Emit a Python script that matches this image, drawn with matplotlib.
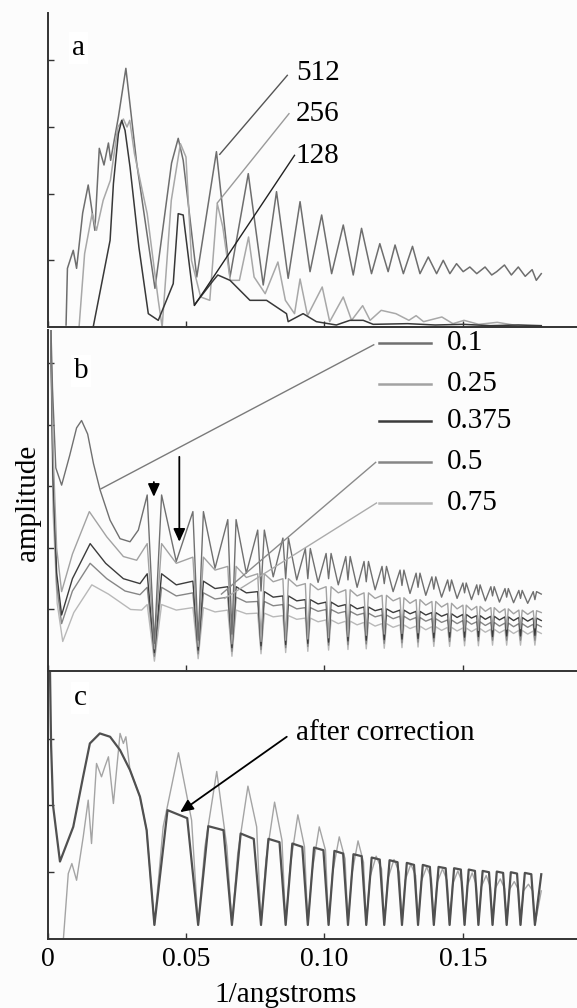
import matplotlib
matplotlib.use("Agg")
import matplotlib.pyplot as plt

plt.rcParams['font.family'] = ['Liberation Serif', 'DejaVu Serif']

# ---------------- data (x in 1/angstroms, y in arbitrary amplitude units) ----------------
# Panel a : spectra for box sizes
x512 = [0.0067, 0.0072, 0.0093, 0.0105, 0.0127, 0.0147, 0.0171, 0.0187, 0.0204, 0.0220,
        0.0228, 0.0240, 0.0256, 0.0283, 0.0322, 0.0388, 0.0448, 0.0472, 0.0490, 0.0539,
        0.0610, 0.0659, 0.0725, 0.0779, 0.0827, 0.0869, 0.0912, 0.0948, 0.0990, 0.1026,
        0.1068, 0.1104, 0.1134, 0.1170, 0.1200, 0.1230, 0.1255, 0.1285, 0.1318, 0.1345,
        0.1375, 0.1405, 0.1429, 0.1453, 0.1477, 0.1501, 0.1525, 0.1550, 0.1580, 0.1604,
        0.1622, 0.1650, 0.1675, 0.1700, 0.1725, 0.1750, 0.1765, 0.1783]
y512 = [0.03, 0.88, 1.15, 0.88, 1.71, 2.13, 1.45, 2.68, 2.43, 2.76,
        2.50, 2.78, 3.15, 3.88, 2.46, 0.58, 2.46, 2.83, 2.50, 0.75,
        2.63, 0.75, 2.30, 0.63, 2.03, 0.73, 1.88, 0.83, 1.68, 0.80,
        1.53, 0.78, 1.48, 0.80, 1.25, 0.83, 1.23, 0.80, 1.21, 0.80,
        1.05, 0.80, 1.00, 0.80, 0.95, 0.83, 0.90, 0.80, 0.90, 0.78,
        0.83, 0.93, 0.78, 0.90, 0.76, 0.86, 0.70, 0.80]

x256 = [0.0114, 0.0134, 0.0161, 0.0177, 0.0201, 0.0227, 0.0254, 0.0274, 0.0287, 0.0297,
        0.0314, 0.0360, 0.0400, 0.0414, 0.0447, 0.0480, 0.0500, 0.0520, 0.0553, 0.0586,
        0.0613, 0.0633, 0.0660, 0.0693, 0.0726, 0.0746, 0.0786, 0.0832, 0.0859, 0.0892,
        0.0912, 0.0939, 0.0992, 0.1019, 0.1068, 0.1098, 0.1138, 0.1165, 0.1205, 0.1258,
        0.1305, 0.1331, 0.1358, 0.1424, 0.1464, 0.1504, 0.1557, 0.1624, 0.1690, 0.1783]
y256 = [0.0, 1.10, 1.70, 1.45, 1.90, 2.20, 3.00, 3.12, 3.00, 3.10,
        2.60, 1.70, 0.40, 0.0, 1.90, 2.75, 2.55, 1.00, 0.45, 0.40,
        1.85, 1.50, 0.70, 0.70, 1.35, 0.75, 0.50, 0.975, 0.40, 0.20,
        0.72, 0.17, 0.60, 0.08, 0.45, 0.10, 0.32, 0.10, 0.25, 0.20,
        0.10, 0.17, 0.08, 0.15, 0.05, 0.10, 0.04, 0.07, 0.025, 0.01]

x128 = [0.0165, 0.0226, 0.0238, 0.0256, 0.0268, 0.0280, 0.0298, 0.0330, 0.0364, 0.0400,
        0.0454, 0.0472, 0.0490, 0.0530, 0.0599, 0.0615, 0.0659, 0.0731, 0.0791, 0.0863,
        0.0869, 0.0923, 0.0971, 0.1043, 0.1092, 0.1140, 0.1176, 0.1300, 0.1400, 0.1500,
        0.1600, 0.1700, 0.1783]
y128 = [0.0, 1.30, 2.15, 2.90, 3.10, 2.95, 2.40, 1.20, 0.20, 0.10,
        0.65, 1.70, 1.68, 0.33, 0.70, 0.78, 0.70, 0.40, 0.40, 0.20,
        0.08, 0.20, 0.08, 0.03, 0.10, 0.10, 0.04, 0.05, 0.03, 0.04,
        0.02, 0.03, 0.02]

size_labels = ['512', '256', '128']

# Shared CTF zero positions (panels b and c) and points between them
zeros_x = [0.0386, 0.0544, 0.0666, 0.0771, 0.0860, 0.0940, 0.1015, 0.1085, 0.1151, 0.1216,
           0.1280, 0.1338, 0.1395, 0.1452, 0.1506, 0.1556, 0.1607, 0.1658, 0.1708, 0.1760]
trough_x = [0.0465, 0.0605, 0.0718, 0.0815, 0.0900, 0.0977, 0.1050, 0.1118, 0.1183, 0.1248,
            0.1309, 0.1366, 0.1423, 0.1479, 0.1531, 0.1581, 0.1632, 0.1683, 0.1734]
peak_dx = [0.0026, 0.0019, 0.0015, 0.0012, 0.0010, 0.0009, 0.0009, 0.0008, 0.0008, 0.0008,
           0.0007, 0.0007, 0.0007, 0.0007, 0.0006, 0.0006, 0.0006, 0.0006, 0.0006, 0.0006]
x_end = 0.1783

# Panel b : series for amplitude contrast values
b_labels = ['0.1', '0.25', '0.375', '0.5', '0.75']
b01_lead_x = [0.0010, 0.0018, 0.0030, 0.0051, 0.0080, 0.0105, 0.0123, 0.0145, 0.0166, 0.0190, 0.0226, 0.0262, 0.0298, 0.0328]
b01_lead_y = [6.0, 4.6, 3.3, 3.02, 3.5, 3.95, 4.07, 3.85, 3.37, 2.94, 2.45, 2.15, 2.10, 2.29]
b01_peaks = [2.86, 2.59, 2.46, 2.29, 2.16, 1.99, 1.91, 1.86, 1.78, 1.70, 1.64, 1.59, 1.53, 1.48, 1.43, 1.40, 1.37, 1.34, 1.31, 1.29]
b01_notch = [0.45, 0.50, 0.60, 1.30, 1.50, 1.50, 1.50, 1.48, 1.45, 1.42, 1.39, 1.36, 1.33, 1.30, 1.27, 1.24, 1.22, 1.20, 1.18, 1.16]
b01_trough = [1.78, 1.67, 1.59, 1.53, 1.48, 1.44, 1.40, 1.36, 1.32, 1.29, 1.26, 1.23, 1.20, 1.18, 1.16, 1.14, 1.12, 1.11, 1.10]
b01_end = 1.25

b025_lead_x = [0.0010, 0.0020, 0.0033, 0.0051, 0.0090, 0.0151, 0.0214, 0.0274, 0.0322]
b025_lead_y = [6.0, 3.6, 2.0, 1.29, 1.90, 2.59, 2.18, 1.86, 1.80]
b025_peaks = [2.07, 1.85, 1.70, 1.58, 1.50, 1.42, 1.37, 1.32, 1.27, 1.23, 1.19, 1.16, 1.13, 1.10, 1.07, 1.05, 1.03, 1.01, 0.99, 0.98]
b025_notch = [0.36, 0.40, 0.44, 0.48, 0.50, 0.52, 0.54, 0.56, 0.58, 0.60, 0.61, 0.62, 0.63, 0.64, 0.65, 0.66, 0.67, 0.68, 0.69, 0.70]
b025_trough = [1.75, 1.64, 1.52, 1.45, 1.38, 1.32, 1.27, 1.22, 1.18, 1.14, 1.10, 1.07, 1.04, 1.01, 0.99, 0.97, 0.95, 0.93, 0.92]
b025_end = 0.95

b0375_lead_x = [0.0010, 0.0020, 0.0033, 0.0051, 0.0090, 0.0154, 0.0210, 0.0274, 0.0334]
b0375_lead_y = [6.0, 3.2, 1.6, 0.91, 1.50, 2.07, 1.75, 1.50, 1.42]
b0375_peaks = [1.58, 1.46, 1.37, 1.29, 1.22, 1.16, 1.12, 1.08, 1.04, 1.01, 0.99, 0.97, 0.95, 0.93, 0.92, 0.90, 0.89, 0.88, 0.87, 0.86]
b0375_notch = [0.30, 0.34, 0.38, 0.41, 0.43, 0.45, 0.47, 0.49, 0.50, 0.51, 0.52, 0.53, 0.54, 0.55, 0.55, 0.56, 0.56, 0.57, 0.57, 0.58]
b0375_trough = [1.40, 1.34, 1.27, 1.20, 1.14, 1.09, 1.05, 1.01, 0.98, 0.95, 0.93, 0.91, 0.89, 0.87, 0.86, 0.84, 0.83, 0.82, 0.81]
b0375_end = 0.82

b05_lead_x = [0.0010, 0.0020, 0.0033, 0.0051, 0.0090, 0.0154, 0.0214, 0.0280, 0.0334]
b05_lead_y = [6.0, 3.0, 1.4, 0.77, 1.30, 1.75, 1.50, 1.30, 1.24]
b05_peaks = [1.36, 1.27, 1.20, 1.13, 1.08, 1.03, 1.00, 0.97, 0.94, 0.91, 0.89, 0.87, 0.85, 0.83, 0.82, 0.80, 0.79, 0.78, 0.77, 0.76]
b05_notch = [0.24, 0.28, 0.32, 0.35, 0.38, 0.40, 0.42, 0.43, 0.44, 0.45, 0.46, 0.47, 0.48, 0.48, 0.49, 0.49, 0.50, 0.50, 0.50, 0.50]
b05_trough = [1.22, 1.17, 1.12, 1.06, 1.01, 0.97, 0.94, 0.91, 0.88, 0.85, 0.83, 0.81, 0.79, 0.77, 0.76, 0.74, 0.73, 0.72, 0.71]
b05_end = 0.72

b075_lead_x = [0.0010, 0.0020, 0.0035, 0.0055, 0.0095, 0.0160, 0.0220, 0.0300, 0.0340]
b075_lead_y = [6.0, 2.6, 1.1, 0.48, 0.95, 1.40, 1.25, 1.00, 0.99]
b075_peaks = [1.08, 1.03, 0.99, 0.94, 0.90, 0.86, 0.83, 0.81, 0.79, 0.77, 0.75, 0.73, 0.72, 0.71, 0.70, 0.69, 0.68, 0.67, 0.66, 0.65]
b075_notch = [0.16, 0.20, 0.24, 0.28, 0.30, 0.32, 0.34, 0.35, 0.36, 0.37, 0.38, 0.39, 0.40, 0.40, 0.41, 0.41, 0.42, 0.42, 0.42, 0.42]
b075_trough = [0.99, 0.96, 0.93, 0.88, 0.84, 0.80, 0.77, 0.75, 0.73, 0.71, 0.69, 0.67, 0.66, 0.65, 0.64, 0.63, 0.62, 0.61, 0.60]
b075_end = 0.61

# Panel c : before / after correction
c_notch = 0.21
corr_lead_x = [0.0008, 0.0013, 0.0020, 0.0045, 0.0093, 0.0129, 0.0153, 0.0189, 0.0226, 0.0262, 0.0298, 0.0334, 0.0358]
corr_lead_y = [4.3, 2.9, 2.0, 1.16, 1.68, 2.44, 2.93, 3.08, 3.03, 2.83, 2.53, 2.13, 1.63]
corr_a = [1.93, 1.69, 1.58, 1.50, 1.43, 1.37, 1.32, 1.27, 1.22, 1.18, 1.14, 1.11, 1.08, 1.06, 1.04, 1.02, 1.01, 1.00, 0.99]
corr_b = [1.81, 1.63, 1.50, 1.45, 1.38, 1.33, 1.28, 1.24, 1.19, 1.15, 1.11, 1.08, 1.06, 1.04, 1.02, 1.00, 0.99, 0.98, 0.97]
corr_end = 0.97

raw_lead_x = [0.0052, 0.0075, 0.0088, 0.0105, 0.0129, 0.0147, 0.0159, 0.0177, 0.0195, 0.0207, 0.0220, 0.0238, 0.0262, 0.0274, 0.0283, 0.0298, 0.0334, 0.0358]
raw_lead_y = [-0.3, 0.98, 1.13, 0.88, 1.53, 2.08, 1.43, 2.63, 2.43, 2.58, 2.73, 2.03, 3.08, 2.93, 3.03, 2.53, 2.13, 1.63]
raw_lowA = [1.68, 1.38, 1.28, 1.18, 1.08, 1.00, 0.98, 0.95, 0.92, 0.90, 0.88, 0.86, 0.84, 0.82, 0.80, 0.78, 0.76, 0.74, 0.72]
raw_peak = [2.79, 2.51, 2.29, 2.05, 1.86, 1.68, 1.53, 1.47, 1.24, 1.19, 1.12, 1.08, 1.05, 1.02, 0.99, 0.95, 0.90, 0.86, 0.82]
raw_lowB = [1.78, 1.38, 1.68, 1.48, 1.38, 1.33, 1.20, 1.15, 1.05, 1.00, 0.95, 0.90, 0.87, 0.84, 0.81, 0.78, 0.76, 0.74, 0.72]
raw_end = 0.72

xtick_vals = [0, 0.05, 0.10, 0.15]
xtick_labels = ['0', '0.05', '0.10', '0.15']


# ---------------- helpers ----------------
def build_b(lead_x, lead_y, peaks, notches, troughs, end_y):
    xs, ys = list(lead_x), list(lead_y)
    for i, z in enumerate(zeros_x):
        xs += [z - peak_dx[i], z, z + peak_dx[i]]
        ys += [peaks[i], notches[i], peaks[i]]
        if i < len(trough_x):
            xs.append(trough_x[i])
            ys.append(troughs[i])
    xs.append(x_end)
    ys.append(end_y)
    return xs, ys


def build_corr():
    xs, ys = list(corr_lead_x), list(corr_lead_y)
    for i, z in enumerate(zeros_x):
        xs.append(z)
        ys.append(c_notch)
        if i < len(zeros_x) - 1:
            seg = zeros_x[i + 1] - z
            xs += [z + 0.3 * seg, z + 0.75 * seg]
            ys += [corr_a[i], corr_b[i]]
    xs.append(x_end)
    ys.append(corr_end)
    return xs, ys


def build_raw():
    xs, ys = list(raw_lead_x), list(raw_lead_y)
    for i, z in enumerate(zeros_x):
        xs.append(z)
        ys.append(c_notch)
        if i < len(zeros_x) - 1:
            seg = zeros_x[i + 1] - z
            xs += [z + 0.2 * seg, z + 0.55 * seg, z + 0.85 * seg]
            ys += [raw_lowA[i], raw_peak[i], raw_lowB[i]]
    xs.append(x_end)
    ys.append(raw_end)
    return xs, ys


BG = '#fcfcfc'
SPINE = '#333333'
FS = 21

fig = plt.figure(figsize=(5.77, 10.08), dpi=100)
fig.patch.set_facecolor(BG)

L = 47.5 / 577
W = 1 - L
axa = fig.add_axes([L, 0.6756, W, 0.3115])
axb = fig.add_axes([L, 0.3343, W, 0.3383])
axc = fig.add_axes([L, 0.0685, W, 0.2648])


def style(ax, ylim, yticks, show_xlabels):
    ax.set_facecolor(BG)
    ax.set_xlim(0, 0.1912)
    ax.set_ylim(*ylim)
    for s in ['top', 'right']:
        ax.spines[s].set_visible(False)
    for s in ['left', 'bottom']:
        ax.spines[s].set_color(SPINE)
        ax.spines[s].set_linewidth(1.4)
    ax.set_yticks(yticks)
    ax.set_yticklabels([])
    ax.set_xticks(xtick_vals)
    if show_xlabels:
        ax.set_xticklabels(xtick_labels, fontsize=20)
    else:
        ax.set_xticklabels([])
    ax.tick_params(direction='in', length=4, width=1.0, color=SPINE, pad=6)


# ---- panel a ----
style(axa, (0, 4.71), [1, 2, 3, 4], False)
axa.plot(x512, y512, color='#6e6e6e', lw=1.1)
axa.plot(x256, y256, color='#a8a8a8', lw=1.1)
axa.plot(x128, y128, color='#383838', lw=1.1)
axa.text(0.0088, 4.08, 'a', fontsize=FS, ha='left', va='baseline',
         bbox=dict(facecolor='white', edgecolor='none', pad=2))
a_lab_y = [3.70, 3.09, 2.46]
a_lead = [((0.0866, 3.775), (0.0622, 2.59), '#555555'),
          ((0.0872, 3.20), (0.0613, 1.86), '#9a9a9a'),
          ((0.0892, 2.575), (0.0531, 0.325), '#222222')]
for lab, ly, (p0, p1, col) in zip(size_labels, a_lab_y, a_lead):
    axa.text(0.0897, ly, lab, fontsize=FS, ha='left', va='baseline')
    axa.plot([p0[0], p1[0]], [p0[1], p1[1]], color=col, lw=1.0)

# ---- panel b ----
style(axb, (0, 5.54), [1, 2, 3, 4, 5], False)
b_series = [
    (b01_lead_x, b01_lead_y, b01_peaks, b01_notch, b01_trough, b01_end, '#707070'),
    (b025_lead_x, b025_lead_y, b025_peaks, b025_notch, b025_trough, b025_end, '#a2a2a2'),
    (b0375_lead_x, b0375_lead_y, b0375_peaks, b0375_notch, b0375_trough, b0375_end, '#3c3c3c'),
    (b05_lead_x, b05_lead_y, b05_peaks, b05_notch, b05_trough, b05_end, '#868686'),
    (b075_lead_x, b075_lead_y, b075_peaks, b075_notch, b075_trough, b075_end, '#b8b8b8'),
]
for lx, ly, pk, nt, tr, ed, col in reversed(b_series):
    xs, ys = build_b(lx, ly, pk, nt, tr, ed)
    axb.plot(xs, ys, color=col, lw=1.0)

legend_y = [5.33, 4.67, 4.07, 3.39, 2.73]
for lab, yy, ser in zip(b_labels, legend_y, b_series):
    axb.plot([0.1198, 0.1384], [yy, yy], color=ser[-1], lw=1.8)
    axb.text(0.1443, yy, lab, fontsize=FS, ha='left', va='center')

axb.plot([0.1178, 0.0193], [5.30, 2.96], color='#7a7a7a', lw=1.0)
axb.plot([0.1185, 0.0628], [3.39, 1.25], color='#8a8a8a', lw=1.0)
axb.plot([0.1188, 0.0640], [2.73, 1.18], color='#ababab', lw=1.0)

arrow_style = dict(arrowstyle='-|>,head_length=0.55,head_width=0.25', color='black',
                   lw=1.3, mutation_scale=14, shrinkA=0, shrinkB=0)
axb.annotate('', xy=(0.0384, 2.83), xytext=(0.0384, 3.07), arrowprops=arrow_style)
axb.annotate('', xy=(0.0476, 2.10), xytext=(0.0476, 3.48), arrowprops=arrow_style)
axb.text(0.0094, 4.76, 'b', fontsize=FS, ha='left', va='baseline',
         bbox=dict(facecolor='white', edgecolor='none', pad=2))

# ---- panel c ----
style(axc, (0, 4.0), [1, 2, 3], True)
rx, ry = build_raw()
axc.plot(rx, ry, color='#a4a4a4', lw=1.0)
cx, cy = build_corr()
axc.plot(cx, cy, color='#505050', lw=1.6)
axc.text(0.0094, 3.51, 'c', fontsize=FS, ha='left', va='baseline',
         bbox=dict(facecolor='white', edgecolor='none', pad=2))
axc.text(0.0897, 2.98, 'after correction', fontsize=FS, ha='left', va='baseline')
axc.annotate('', xy=(0.0479, 1.90), xytext=(0.0864, 3.03), arrowprops=arrow_style)

fig.text(28 / 577, 1 - 503 / 1008, 'amplitude', rotation=90, fontsize=FS,
         ha='center', va='center')
fig.text(286 / 577, 1 - 995 / 1008, '1/angstroms', fontsize=FS, ha='center', va='center')

fig.savefig('out.png', dpi=100, facecolor=BG)
